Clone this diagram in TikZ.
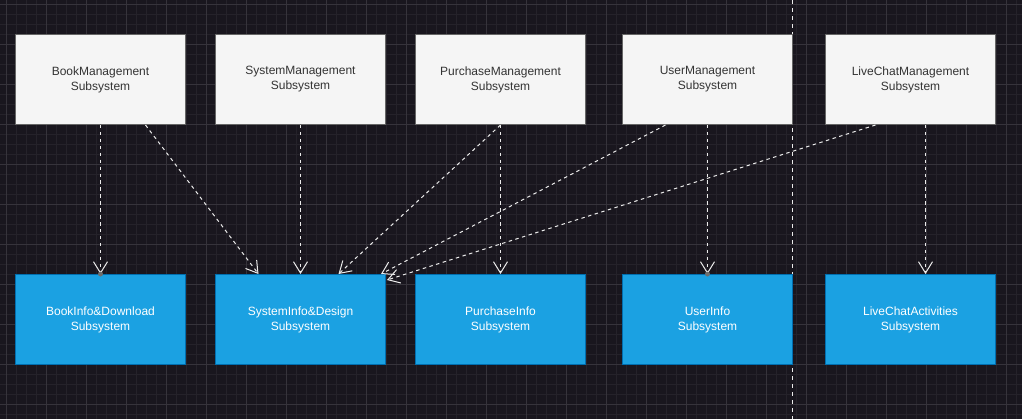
\documentclass[tikz,border=0pt]{standalone}
\usepackage{fontspec}
\setmainfont{Liberation Sans}
\usetikzlibrary{arrows.meta,calc}
\definecolor{bgc}{HTML}{19161E}
\definecolor{gridminor}{HTML}{25222A}
\definecolor{gridmajor}{HTML}{36333B}
\definecolor{mgmtfill}{HTML}{F5F5F5}
\definecolor{mgmtdraw}{HTML}{666666}
\definecolor{mgmttext}{HTML}{333333}
\definecolor{infofill}{HTML}{1BA1E2}
\definecolor{infodraw}{HTML}{006EAF}
\definecolor{dotc}{HTML}{6E6E6E}
\tikzset{
  box/.style={rectangle, minimum width=127.5pt, minimum height=67.5pt, inner sep=0pt,
    anchor=north west, align=center, line width=0.75pt,
    font=\fontsize{9pt}{11.25pt}\selectfont},
  mgmt/.style={box, fill=mgmtfill, draw=mgmtdraw, text=mgmttext},
  info/.style={box, fill=infofill, draw=infodraw, text=white},
  dep/.style={draw=white!92!black, line width=0.75pt, dash pattern=on 2.6pt off 2.6pt,
    -{Straight Barb[length=8.5pt,width=10.5pt,line width=0.75pt]}},
}
\begin{document}
\begin{tikzpicture}[x=0.75pt,y=-0.75pt]
\useasboundingbox (0,0) rectangle (1022,419);
\fill[bgc] (0,0) rectangle (1022,419);
% grid
\foreach \i in {0,...,101} {
  \draw[gridminor, line width=0.75pt] ({6+10*\i},0) -- ({6+10*\i},419);
}
\foreach \j in {0,...,41} {
  \draw[gridminor, line width=0.75pt] (0,{4+10*\j}) -- (1022,{4+10*\j});
}
\foreach \i in {0,...,25} {
  \draw[gridmajor, line width=0.75pt] ({6+40*\i},0) -- ({6+40*\i},419);
}
\foreach \j in {0,...,10} {
  \draw[gridmajor, line width=0.75pt] (0,{4+40*\j}) -- (1022,{4+40*\j});
}
% vertical divider
\coordinate (divtop) at (792,0);
\coordinate (divbot) at (792,419);
\draw[white!92!black, line width=0.75pt, dash pattern=on 3pt off 3pt] (divtop) -- (divbot);
% management nodes
\node[mgmt] (bm) at (15,34) {BookManagement\\Subsystem};
\node[mgmt] (sm) at (215,34) {SystemManagement\\Subsystem};
\node[mgmt] (pm) at (415,34) {PurchaseManagement\\Subsystem};
\node[mgmt] (um) at (622,34) {UserManagement\\Subsystem};
\node[mgmt] (lm) at (825,34) {LiveChatManagement\\Subsystem};
% info nodes
\node[info] (bi) at (15,274) {BookInfo\&Download\\Subsystem};
\node[info] (si) at (215,274) {SystemInfo\&Design\\Subsystem};
\node[info] (pi) at (415,274) {PurchaseInfo\\Subsystem};
\node[info] (ui) at (622,274) {UserInfo\\Subsystem};
\node[info] (li) at (825,274) {LiveChatActivities\\Subsystem};
% dependencies
\draw[dep] (bm.south) -- (bi.north);
\draw[dep] ($(bm.south)+(45,0)$) -- ($(si.north)+(-42,0)$);
\draw[dep] (sm.south) -- (si.north);
\draw[dep] (pm.south) -- (pi.north);
\draw[dep] (pm.south) -- ($(si.north)+(38,0)$);
\draw[dep] ($(um.south)+(-42,0)$) -- ($(si.north east)+(-5,0)$);
\draw[dep] (um.south) -- (ui.north);
\draw[dep] ($(lm.south)+(-35,0)$) -- ($(si.north east)+(1,6)$);
\draw[dep] ($(lm.south)+(15,0)$) -- ($(li.north)+(15,0)$);
% connection dots
\fill[dotc] (bi.north) circle (2.5);
\fill[dotc] (ui.north) circle (2.5);
\end{tikzpicture}
\end{document}
